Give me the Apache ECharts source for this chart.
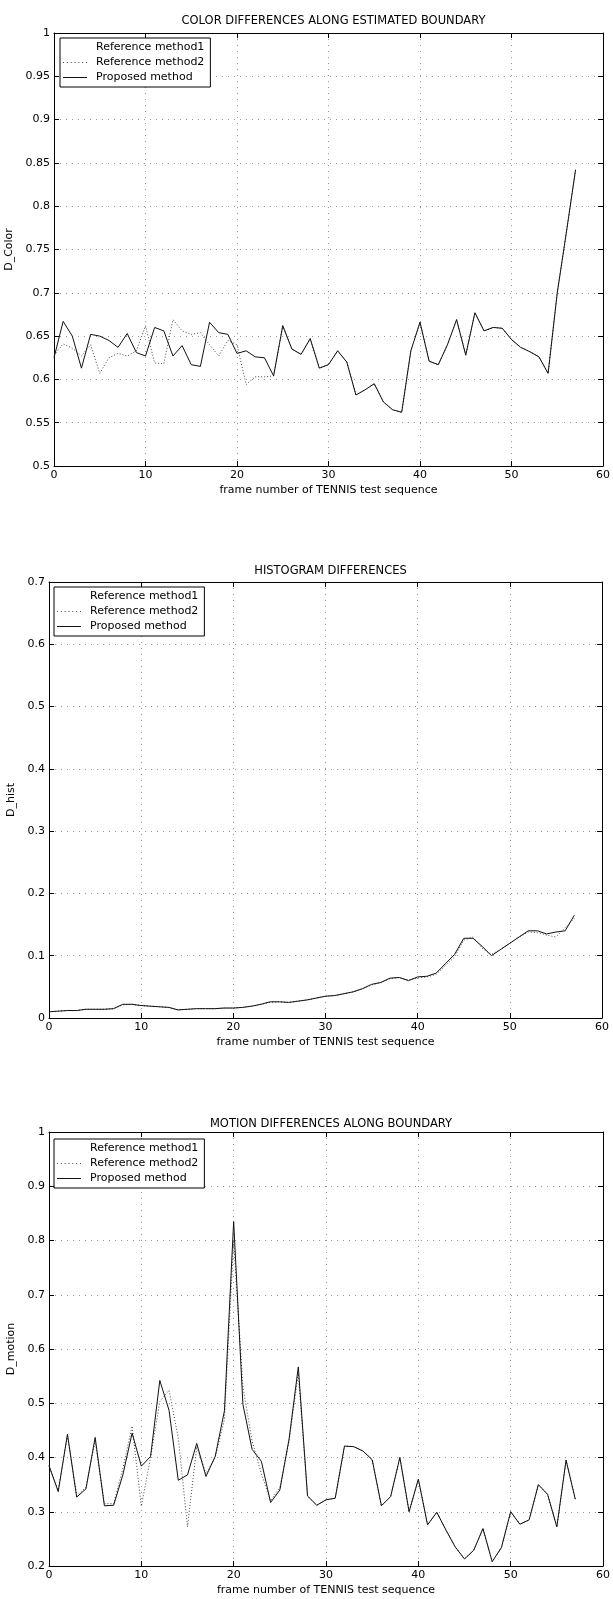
<!DOCTYPE html>
<html>
<head>
    <meta charset="utf-8">
    <title>TENNIS test sequence</title>
    <script src="https://cdn.jsdelivr.net/npm/echarts@6/dist/echarts.min.js"></script>
    <style>
        html, body { margin: 0; padding: 0; background: #fff; }
        #main { width: 613px; height: 1599px; }
    </style>
</head>
<body>
<div id="main"></div>
<script>
    // frame numbers (x)
    var frames = [0, 1, 2, 3, 4, 5, 6, 7, 8, 9, 10, 11, 12, 13, 14, 15, 16, 17, 18, 19,
        20, 21, 22, 23, 24, 25, 26, 27, 28, 29, 30, 31, 32, 33, 34, 35, 36, 37, 38, 39,
        40, 41, 42, 43, 44, 45, 46, 47, 48, 49, 50, 51, 52, 53, 54, 55, 56, 57];

    var seriesNames = ['Reference method1', 'Reference method2', 'Proposed method'];

    // color differences
    var colorProposed = [0.625, 0.667, 0.650, 0.613, 0.652, 0.650, 0.645, 0.637, 0.653, 0.631,
        0.627, 0.660, 0.656, 0.627, 0.639, 0.617, 0.615, 0.666, 0.654, 0.652,
        0.630, 0.633, 0.626, 0.625, 0.604, 0.662, 0.635, 0.629, 0.647, 0.613,
        0.617, 0.633, 0.620, 0.582, 0.588, 0.595, 0.574, 0.565, 0.562, 0.633,
        0.666, 0.621, 0.617, 0.640, 0.669, 0.628, 0.677, 0.656, 0.660, 0.659,
        0.646, 0.637, 0.632, 0.626, 0.607, 0.700, 0.770, 0.842];
    var colorRef2 = [0.628, 0.641, 0.636, 0.627, 0.640, 0.607, 0.625, 0.630, 0.627, 0.633,
        0.662, 0.619, 0.618, 0.669, 0.656, 0.652, 0.654, 0.640, 0.627, 0.645,
        0.640, 0.594, 0.603, 0.603, 0.604, 0.662, 0.635, 0.629, 0.647, 0.613,
        0.617, 0.633, 0.620, 0.582, 0.588, 0.595, 0.574, 0.565, 0.562, 0.633,
        0.666, 0.621, 0.617, 0.640, 0.669, 0.628, 0.677, 0.656, 0.660, 0.659,
        0.646, 0.637, 0.632, 0.626, 0.607, 0.700, 0.770, 0.842];
    var colorTicks = [0.5, 0.55, 0.6, 0.65, 0.7, 0.75, 0.8, 0.85, 0.9, 0.95, 1];

    // histogram differences
    var histProposed = [0.010, 0.011, 0.012, 0.012, 0.014, 0.014, 0.014, 0.015, 0.022, 0.022,
        0.020, 0.019, 0.018, 0.017, 0.013, 0.014, 0.015, 0.015, 0.015, 0.016,
        0.016, 0.017, 0.019, 0.022, 0.026, 0.026, 0.025, 0.027, 0.029, 0.032,
        0.035, 0.036, 0.039, 0.042, 0.047, 0.054, 0.057, 0.064, 0.065, 0.060,
        0.066, 0.067, 0.072, 0.087, 0.102, 0.128, 0.128, 0.115, 0.100, 0.110,
        0.120, 0.130, 0.140, 0.140, 0.135, 0.138, 0.140, 0.165];
    var histRef2 = [0.010, 0.011, 0.012, 0.012, 0.014, 0.014, 0.014, 0.015, 0.021, 0.022,
        0.020, 0.019, 0.018, 0.017, 0.013, 0.014, 0.015, 0.015, 0.015, 0.016,
        0.016, 0.017, 0.019, 0.022, 0.025, 0.026, 0.025, 0.027, 0.029, 0.032,
        0.035, 0.036, 0.039, 0.042, 0.047, 0.053, 0.057, 0.063, 0.065, 0.061,
        0.064, 0.066, 0.070, 0.084, 0.098, 0.125, 0.130, 0.112, 0.102, 0.110,
        0.120, 0.130, 0.138, 0.137, 0.133, 0.130, 0.145, 0.160];
    var histTicks = [0, 0.1, 0.2, 0.3, 0.4, 0.5, 0.6, 0.7];

    // motion differences
    var motionProposed = [0.385, 0.337, 0.443, 0.327, 0.342, 0.437, 0.311, 0.312, 0.368, 0.445,
        0.384, 0.402, 0.542, 0.487, 0.358, 0.368, 0.426, 0.365, 0.402, 0.486,
        0.835, 0.498, 0.415, 0.393, 0.317, 0.340, 0.434, 0.567, 0.329, 0.312,
        0.322, 0.325, 0.421, 0.420, 0.412, 0.396, 0.311, 0.328, 0.400, 0.300,
        0.360, 0.276, 0.299, 0.266, 0.235, 0.213, 0.229, 0.269, 0.208, 0.234,
        0.300, 0.277, 0.285, 0.350, 0.332, 0.272, 0.395, 0.323];
    var motionRef2 = [0.385, 0.340, 0.440, 0.330, 0.345, 0.430, 0.315, 0.315, 0.380, 0.458,
        0.310, 0.400, 0.503, 0.524, 0.436, 0.272, 0.420, 0.370, 0.400, 0.470,
        0.800, 0.530, 0.430, 0.370, 0.320, 0.345, 0.430, 0.555, 0.329, 0.312,
        0.322, 0.325, 0.421, 0.420, 0.412, 0.396, 0.311, 0.328, 0.400, 0.300,
        0.360, 0.276, 0.299, 0.266, 0.235, 0.213, 0.229, 0.269, 0.208, 0.234,
        0.300, 0.277, 0.285, 0.350, 0.332, 0.272, 0.395, 0.323];
    var motionTicks = [0.2, 0.3, 0.4, 0.5, 0.6, 0.7, 0.8, 0.9, 1];

    var refMethod1 = []; // not visible in the print

    var FONT = 'DejaVu Sans';

    // legend samples: solid and dotted strokes
    var solidIcon = 'path://M0,0h24v1h-24z';
    var dottedIcon = 'path://M0,0h1v1h-1zM4,0h1v1h-1zM8,0h1v1h-1zM12,0h1v1h-1zM16,0h1v1h-1zM20,0h1v1h-1zM24,0h1v1h-1z';

    function pairs(ys) {
        var out = [];
        for (var i = 0; i < ys.length; i++) out.push([frames[i], ys[i]]);
        return out;
    }

    var panels = [
        {title: 'COLOR DIFFERENCES ALONG ESTIMATED BOUNDARY', yName: 'D_Color', ticks: colorTicks,
            ref1: refMethod1, ref2: colorRef2, prop: colorProposed,
            left: 54, right: 10, top: 33, height: 433, titleTop: 10, legend: [60, 38], nameGap: 35},
        {title: 'HISTOGRAM DIFFERENCES', yName: 'D_hist', ticks: histTicks,
            ref1: refMethod1, ref2: histRef2, prop: histProposed,
            left: 49, right: 11, top: 582, height: 436, titleTop: 560, legend: [54, 587], nameGap: 32},
        {title: 'MOTION DIFFERENCES ALONG BOUNDARY', yName: 'D_motion', ticks: motionTicks,
            ref1: refMethod1, ref2: motionRef2, prop: motionProposed,
            left: 49, right: 10, top: 1132, height: 434, titleTop: 1113, legend: [54, 1139], nameGap: 32}
    ];

    var option = {
        backgroundColor: '#fff',
        animation: false,
        textStyle: {fontFamily: FONT, color: '#000'},
        title: [], legend: [], grid: [], xAxis: [], yAxis: [], series: []
    };

    var gridLine = {show: true, lineStyle: {color: '#999', width: 1, type: [1, 5]}};
    var tick = {show: true, inside: true, length: 5, lineStyle: {color: '#000'}};
    var axisLine = {show: true, onZero: false, lineStyle: {color: '#000', width: 1}};

    panels.forEach(function (p, k) {
        var yMin = p.ticks[0], yMax = p.ticks[p.ticks.length - 1];
        var yStep = Math.round((p.ticks[1] - p.ticks[0]) * 1000) / 1000;
        var plotW = 613 - p.left - p.right;

        option.title.push({
            text: p.title, left: p.left + plotW / 2, top: p.titleTop, textAlign: 'center',
            textStyle: {fontFamily: FONT, fontSize: 11.5, fontWeight: 'normal', color: '#000'}
        });
        option.legend.push({
            data: [
                {name: seriesNames[0], icon: solidIcon},
                {name: seriesNames[1], icon: dottedIcon},
                {name: seriesNames[2], icon: solidIcon}
            ],
            orient: 'vertical', left: p.legend[0], top: p.legend[1],
            itemWidth: 24, itemHeight: 1, itemGap: 4, padding: [4, 6, 4, 3],
            borderColor: '#000', borderWidth: 1, backgroundColor: '#fff',
            selectedMode: false,
            textStyle: {fontFamily: FONT, fontSize: 11, color: '#000', padding: [0, 0, 0, 4]}
        });
        option.grid.push({
            left: p.left, right: p.right, top: p.top, height: p.height,
            containLabel: false, outerBoundsMode: 'none'
        });

        option.xAxis.push({
            type: 'value', gridIndex: k, min: 0, max: 60, interval: 10, position: 'bottom',
            name: 'frame number of TENNIS test sequence', nameLocation: 'middle', nameGap: 19,
            nameTextStyle: {fontFamily: FONT, fontSize: 11, color: '#000'},
            axisLine: axisLine, axisTick: tick, splitLine: gridLine,
            axisLabel: {margin: 4, fontFamily: FONT, fontSize: 11, color: '#000'}
        });
        option.xAxis.push({
            type: 'value', gridIndex: k, min: 0, max: 60, interval: 10, position: 'top',
            axisLine: axisLine, axisTick: tick, splitLine: {show: false}, axisLabel: {show: false}
        });
        option.yAxis.push({
            type: 'value', gridIndex: k, min: yMin, max: yMax, interval: yStep, position: 'left',
            name: p.yName, nameLocation: 'middle', nameGap: p.nameGap,
            nameTextStyle: {fontFamily: FONT, fontSize: 11, color: '#000'},
            axisLine: axisLine, axisTick: tick, splitLine: gridLine,
            axisLabel: {
                margin: 4, fontFamily: FONT, fontSize: 11, color: '#000',
                formatter: function (v) { return String(Math.round(v * 1000) / 1000); }
            }
        });
        option.yAxis.push({
            type: 'value', gridIndex: k, min: yMin, max: yMax, interval: yStep, position: 'right',
            axisLine: axisLine, axisTick: tick, splitLine: {show: false}, axisLabel: {show: false}
        });

        var xi = k * 2, yi = k * 2;
        option.series.push({
            name: seriesNames[0], type: 'line', xAxisIndex: xi, yAxisIndex: yi,
            data: pairs(p.ref1), symbol: 'none', lineStyle: {color: '#fff', width: 1},
            itemStyle: {color: '#fff'}
        });
        option.series.push({
            name: seriesNames[1], type: 'line', xAxisIndex: xi, yAxisIndex: yi,
            data: pairs(p.ref2), symbol: 'none', z: 3,
            lineStyle: {color: '#444', width: 1, type: [1, 2]}, itemStyle: {color: '#444'}
        });
        option.series.push({
            name: seriesNames[2], type: 'line', xAxisIndex: xi, yAxisIndex: yi,
            data: pairs(p.prop), symbol: 'none', z: 4,
            lineStyle: {color: '#111', width: 1}, itemStyle: {color: '#111'}
        });
    });

    var chart = echarts.init(document.getElementById('main'), null, {renderer: 'canvas'});
    chart.setOption(option);
</script>
</body>
</html>
